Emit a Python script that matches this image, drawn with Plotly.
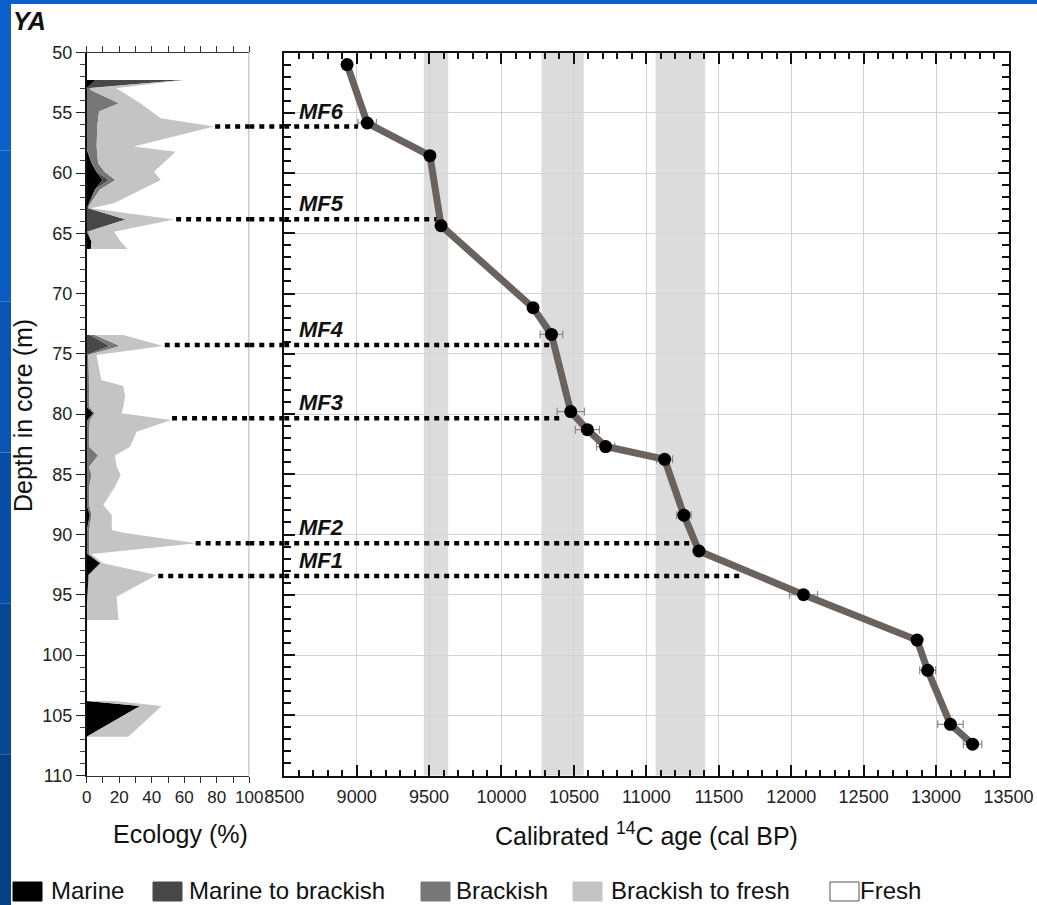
import plotly.graph_objects as go

W, H = 1037, 905
FONT = "Liberation Sans, Arial, sans-serif"

# ---------------- DATA ----------------
# Left panel: ecology (%) per sample depth (m), three sampled intervals
seg1_depth = [52.28, 52.97, 53.11, 54.22, 54.9, 55.46, 56.15, 57.81, 58.23, 59.2,
              59.89, 60.58, 61.4, 62.52, 62.93, 63.85, 64.87, 65.7, 66.31]
seg1_marine = [5.5, 0, 0, 0, 0, 0, 0, 0, 0.5, 3, 6, 9.6, 5, 1.4, 0, 0, 0, 3, 2.5]
seg1_mar_brack = [54, 0, 0, 0, 0, 0, 0, 0, 0, 0, 0, 4, 0, 0, 1, 24, 0, 0, 0]
seg1_brackish = [0, 2, 2.4, 19.9, 7.6, 7, 6.5, 6.1, 6, 4, 5, 4, 3, 1, 0, 0, 1, 0, 0]
seg1_brack_fresh = [0, 16, 17.6, 13.1, 32.4, 38.5, 71.8, 22.9, 48.2, 40, 30.4, 27.9,
                    25, 14.4, 1.4, 29.7, 15.8, 18, 22.5]

seg2_depth = [73.44, 74.36, 75.1, 77.18, 77.68, 78.56, 79.4, 79.94, 80.5, 81.47, 82.71,
              83.45, 84.37, 85.06, 86.03, 87.55, 88.38, 89.63, 89.85, 90.73, 91.62,
              92.39, 93.36, 95.16, 96.2, 97.1]
seg2_marine = [0, 0, 0, 0, 0, 0, 0, 4, 0.5, 0, 0, 0, 0, 0, 0, 0, 2, 0, 0, 0, 0.5,
               8.2, 1, 0.5, 0, 0]
seg2_mar_brack = [2, 14, 0, 0, 0, 0, 0, 0, 0, 0, 0, 0, 0, 0, 0, 0, 0, 0, 0, 0, 0,
                  0, 0, 0, 0, 0]
seg2_brackish = [3, 6.5, 1, 1.5, 1.5, 1.5, 1.5, 1, 1.5, 1.5, 1.5, 7, 1.5, 3, 1.5,
                 1.5, 1, 1.5, 1.5, 1.5, 1, 0.5, 0.5, 0, 0, 0]
seg2_brack_fresh = [17.5, 26.5, 5, 7.5, 21, 22.1, 21, 16.5, 50, 29.2, 25.1, 10.4, 16.9,
                    17.9, 15.9, 8.7, 12.4, 13.9, 21, 66.2, 1.5, 1.3, 41.5, 17.9, 19, 19.5]

seg3_depth = [103.82, 104.23, 106.78]
seg3_marine = [0, 32.8, 0]
seg3_mar_brack = [1, 0, 0]
seg3_brackish = [0, 0, 0]
seg3_brack_fresh = [16.4, 13.3, 25.6]

# Right panel: calibrated age-depth model
ages = [8934, 9073, 9506, 9583, 10218, 10345, 10478, 10593, 10719, 11126, 11259,
        11363, 12085, 12869, 12942, 13099, 13252]
age_depths = [51.0, 55.85, 58.56, 64.37, 71.18, 73.4, 79.8, 81.3, 82.7, 83.76, 88.4,
              91.37, 95.0, 98.76, 101.27, 105.75, 107.4]
age_errors = [15, 64, 20, 20, 25, 78, 94, 83, 63, 55, 50, 30, 97, 30, 55, 88, 64]

# Shaded periods (cal BP)
band_start = [9464, 10276, 11064]
band_end = [9632, 10568, 11407]

# Marine flooding events
mf_names = ["MF6", "MF5", "MF4", "MF3", "MF2", "MF1"]
mf_depths = [56.15, 63.84, 74.27, 80.36, 90.73, 93.44]
mf_start_pct = [79, 55, 48, 52.5, 67, 44]
mf_end_age = [9009, 9552, 10333, 10423, 11310, 11655]
mf_label_age = 8590

classes = ["Marine", "Marine to brackish", "Brackish", "Brackish to fresh", "Fresh"]
class_colors = ["#000000", "#484848", "#777777", "#c4c4c4", "#ffffff"]

eco_ticks = [0, 20, 40, 60, 80, 100]
age_ticks = list(range(8500, 13501, 500))
depth_ticks = list(range(50, 111, 5))

# ---------------- LAYOUT GEOMETRY (pixels) ----------------
def fx(p):
    return p / W

def fy(p):
    return 1 - p / H

L_DOM = [fx(86.7), fx(249.3)]
R_DOM = [fx(284.2), fx(1008.5)]
Y_DOM = [fy(775.5), fy(52.5)]

fig = go.Figure()

# ---- left panel stacked areas ----
segments = [
    (seg1_depth, [seg1_marine, seg1_mar_brack, seg1_brackish, seg1_brack_fresh]),
    (seg2_depth, [seg2_marine, seg2_mar_brack, seg2_brackish, seg2_brack_fresh]),
    (seg3_depth, [seg3_marine, seg3_mar_brack, seg3_brackish, seg3_brack_fresh]),
]
for depths, comps in segments:
    lower = [0.0] * len(depths)
    for k, comp in enumerate(comps):
        upper = [a + b for a, b in zip(lower, comp)]
        xs = lower + upper[::-1] + [lower[0]]
        ys = depths + depths[::-1] + [depths[0]]
        fig.add_trace(go.Scatter(
            x=xs, y=ys, xaxis="x", yaxis="y", mode="lines",
            fill="toself", fillcolor=class_colors[k], line=dict(width=0),
            hoverinfo="skip", showlegend=False))
        lower = upper

# ---- right panel age model ----
fig.add_trace(go.Scatter(
    x=ages, y=age_depths, xaxis="x2", yaxis="y2", mode="markers",
    marker=dict(size=1, color="rgba(0,0,0,0)"),
    error_x=dict(type="data", array=age_errors, color="#8a8a8a", thickness=1.2, width=4),
    hoverinfo="skip", showlegend=False))
fig.add_trace(go.Scatter(
    x=ages, y=age_depths, xaxis="x2", yaxis="y2", mode="lines+markers",
    line=dict(color="#6a625d", width=7),
    marker=dict(size=13, color="#000000"),
    showlegend=False))

shapes = []
# background slide (blue frame strips)
blues = ["#0c60cc", "#0b5cc2", "#0a55b4", "#094ea6", "#084796", "#073f86"]
nb = len(blues)
for i, c in enumerate(blues):
    shapes.append(dict(type="rect", xref="paper", yref="paper",
                       x0=0, x1=fx(11), y0=fy(H * (i + 1) / nb), y1=fy(H * i / nb),
                       fillcolor=c, line=dict(width=0), layer="below"))
shapes.append(dict(type="rect", xref="paper", yref="paper", x0=0, x1=1,
                   y0=fy(4), y1=1, fillcolor="#0c60cc", line=dict(width=0), layer="below"))

# shaded periods
for a0, a1 in zip(band_start, band_end):
    shapes.append(dict(type="rect", xref="x2", yref="y2 domain", x0=a0, x1=a1, y0=0, y1=1,
                       fillcolor="#dcdcdc", line=dict(width=0), layer="below"))

# right border of left panel
shapes.append(dict(type="line", xref="x", yref="y domain", x0=100, x1=100, y0=0, y1=1,
                   line=dict(color="#9a9a9a", width=1.5)))

# MF dotted lines (three pieces: left panel, gap, right panel)
dot = dict(color="#000000", width=4.5, dash="5px,5px")
for d, p0, a1 in zip(mf_depths, mf_start_pct, mf_end_age):
    shapes.append(dict(type="line", xref="x", yref="y", x0=p0, x1=100, y0=d, y1=d, line=dot))
    shapes.append(dict(type="line", xref="paper", yref="y", x0=L_DOM[1], x1=R_DOM[0],
                       y0=d, y1=d, line=dot))
    shapes.append(dict(type="line", xref="x2", yref="y2", x0=8500, x1=a1, y0=d, y1=d,
                       line=dot))

# legend swatches
sw_x = [13, 153, 421, 573, 830]
txt_x = [52, 190, 457, 612, 861]
for i, name in enumerate(classes):
    shapes.append(dict(type="rect", xref="paper", yref="paper",
                       x0=fx(sw_x[i]), x1=fx(sw_x[i] + 29), y0=fy(901), y1=fy(882),
                       fillcolor=class_colors[i],
                       line=dict(color="#555555" if i == 4 else class_colors[i], width=1)))

annotations = []
for i, name in enumerate(classes):
    annotations.append(dict(text=name, xref="paper", yref="paper", x=fx(txt_x[i] - 3),
                            y=fy(890), xanchor="left", yanchor="middle", showarrow=False,
                            font=dict(family=FONT, size=24, color="#111111")))

for name, d in zip(mf_names, mf_depths):
    annotations.append(dict(text="<b><i>" + name + "</i></b>", xref="x2", yref="y2",
                            x=mf_label_age, y=d, xanchor="left", yanchor="bottom",
                            yshift=1, showarrow=False,
                            font=dict(family=FONT, size=22, color="#111111")))

annotations.append(dict(text="<b><i>YA</i></b>", xref="paper", yref="paper",
                        x=fx(11), y=fy(21), xanchor="left", yanchor="middle",
                        showarrow=False, font=dict(family=FONT, size=25, color="#111111")))
annotations.append(dict(text="Depth in core (m)", xref="paper", yref="paper",
                        x=fx(23), y=fy(416), xanchor="center", yanchor="middle",
                        textangle=-90, showarrow=False,
                        font=dict(family=FONT, size=25, color="#111111")))
annotations.append(dict(text="Ecology (%)", xref="paper", yref="paper",
                        x=fx(180), y=fy(834), xanchor="center", yanchor="middle",
                        showarrow=False, font=dict(family=FONT, size=25, color="#111111")))
annotations.append(dict(text="Calibrated <sup>14</sup>C age (cal BP)", xref="paper",
                        yref="paper", x=fx(646), y=fy(834), xanchor="center",
                        yanchor="middle", showarrow=False,
                        font=dict(family=FONT, size=25, color="#111111")))

tickfont = dict(family=FONT, size=18, color="#222222")

fig.update_layout(
    template="none",
    width=W, height=H,
    margin=dict(l=0, r=0, t=0, b=0, autoexpand=False),
    paper_bgcolor="#ffffff", plot_bgcolor="#ffffff",
    showlegend=False,
    shapes=shapes, annotations=annotations,
    xaxis=dict(domain=L_DOM, range=[0, 100], anchor="y", tickvals=eco_ticks,
               tickangle=0, ticks="outside", ticklen=6, tickcolor="#333333",
               minor=dict(dtick=10, ticks="outside", ticklen=6, tickcolor="#333333"),
               showline=True, linecolor="#333333", linewidth=1, mirror="ticks",
               showgrid=False, zeroline=False,
               tickfont=dict(family=FONT, size=17, color="#222222"), automargin=False),
    yaxis=dict(domain=Y_DOM, range=[110, 50], anchor="x", tickvals=depth_ticks,
               ticks="outside", ticklen=9, tickcolor="#222222",
               minor=dict(dtick=1, ticks="outside", ticklen=5, tickcolor="#444444"),
               showline=True, linecolor="#111111", linewidth=1.5,
               showgrid=False, zeroline=False, tickfont=tickfont, automargin=False),
    xaxis2=dict(domain=R_DOM, range=[8500, 13500], anchor="y2", tickvals=age_ticks,
                tickformat="d", tickangle=0,
                ticks="inside", ticklen=11, tickwidth=1.5, tickcolor="#111111",
                minor=dict(dtick=100, ticks="inside", ticklen=6, tickcolor="#111111",
                           showgrid=False),
                showline=True, linecolor="#111111", linewidth=2, mirror="allticks",
                showgrid=True, gridcolor="#d2d2d2", gridwidth=1, zeroline=False,
                tickfont=tickfont, ticklabelstandoff=4, automargin=False),
    yaxis2=dict(domain=Y_DOM, range=[110, 50], anchor="x2", matches="y",
                tickvals=depth_ticks, showticklabels=False,
                ticks="inside", ticklen=11, tickwidth=1.5, tickcolor="#111111",
                minor=dict(dtick=1, ticks="inside", ticklen=7, tickcolor="#111111",
                           showgrid=False),
                showline=True, linecolor="#111111", linewidth=2, mirror="allticks",
                showgrid=True, gridcolor="#d2d2d2", gridwidth=1, zeroline=False,
                automargin=False),
)

fig.write_html(
    "out.html",
    config={"displayModeBar": False},
    post_script="document.body.style.margin='0px';document.body.style.padding='0px';"
                "document.body.style.overflow='hidden';",
)
